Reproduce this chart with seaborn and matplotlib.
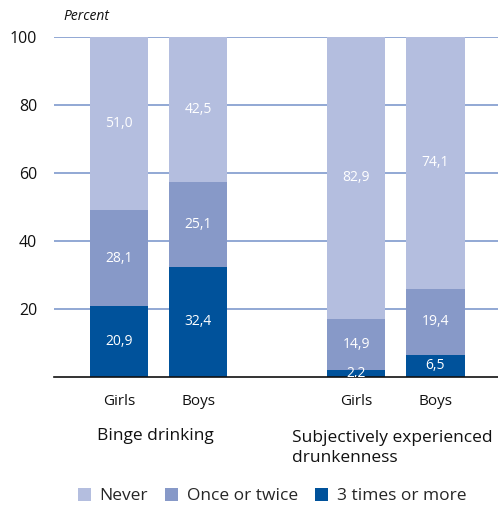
import matplotlib
matplotlib.use("Agg")
import matplotlib.pyplot as plt
import seaborn as sns
import pandas as pd
import numpy as np
from matplotlib.patches import Patch

# ---- data ----
bars = ["Girls", "Boys", "Girls", "Boys"]
groups = ["Binge drinking", "Binge drinking",
          "Subjectively experienced\ndrunkenness", "Subjectively experienced\ndrunkenness"]
never = [51.0, 42.5, 82.9, 74.1]
once_twice = [28.1, 25.1, 14.9, 19.4]
three_more = [20.9, 32.4, 2.2, 6.5]
series_names = ["Never", "Once or twice", "3 times or more"]
yticks = [20, 40, 60, 80, 100]

# ---- style ----
c_never = "#b4bedf"
c_once = "#8799c8"
c_three = "#00529b"
grid_c = "#7f9acd"

sns.set_theme(style="white")
plt.rcParams["font.family"] = ["Open Sans", "DejaVu Sans"]

fig = plt.figure(figsize=(4.98, 5.07), dpi=100)
ax = fig.add_axes([54/498, 130/507, 444/498, 340/507])

pos = [0, 1, 3, 4]
df = pd.DataFrame({
    "pos": pos,
    "never": never,
    "once": once_twice,
    "three": three_more,
})
df["cum_three"] = df["three"]
df["cum_once"] = df["three"] + df["once"]
df["cum_never"] = df["cum_once"] + df["never"]

w = 0.735
for col, c in [("cum_never", c_never), ("cum_once", c_once), ("cum_three", c_three)]:
    sns.barplot(data=df, x="pos", y=col, native_scale=True, color=c,
                width=w, saturation=1, edgecolor="none", linewidth=0, ax=ax, zorder=3)

ax.set_xlim(-0.82, 4.79)
ax.set_ylim(0, 100)
ax.set_yticks(yticks)
ax.set_yticklabels([str(t) for t in yticks])
ax.set_xticks(pos)
ax.set_xticklabels(bars)
ax.set_xlabel("")
ax.set_ylabel("")
ax.tick_params(axis="y", length=0, pad=12, labelsize=11.5, colors="#111111")
ax.tick_params(axis="x", length=0, pad=12, labelsize=11, colors="#111111")
ax.yaxis.grid(True, color=grid_c, linewidth=1.2, zorder=1)
ax.set_axisbelow(True)
for s in ["left", "right", "top"]:
    ax.spines[s].set_visible(False)
ax.spines["bottom"].set_color("#111111")
ax.spines["bottom"].set_linewidth(1.2)
ax.spines["bottom"].set_zorder(5)

# value labels
fmt = lambda v: f"{v:.1f}".replace(".", ",")
for i, p in enumerate(pos):
    centers = [
        (three_more[i] / 2, three_more[i]),
        (three_more[i] + once_twice[i] / 2, once_twice[i]),
        (three_more[i] + once_twice[i] + never[i] / 2, never[i]),
    ]
    for (cy, v) in centers:
        ax.text(p, cy, fmt(v), ha="center", va="center", color="white",
                fontsize=10, zorder=6, clip_on=True)

# group labels
fig.text(97/498, 1 - 436/507, "Binge drinking", ha="left", va="center",
         fontsize=12.5, color="#111111")
fig.text(292/498, 1 - 448/507, "Subjectively experienced\ndrunkenness", ha="left",
         va="center", fontsize=12.5, color="#111111", linespacing=1.25)

# Percent label
fig.text(63/498, 1 - 16/507, "Percent", ha="left", va="center",
         fontsize=10, style="italic", color="#111111")

# legend
handles = [Patch(facecolor=c, edgecolor="none") for c in [c_never, c_once, c_three]]
fig.legend(handles, series_names, loc="center", bbox_to_anchor=(272/498, 1 - 496/507),
           ncol=3, frameon=False, fontsize=12.5, handlelength=0.75, handleheight=0.75,
           handletextpad=0.5, columnspacing=1.0)

fig.savefig("out.png", dpi=100)
